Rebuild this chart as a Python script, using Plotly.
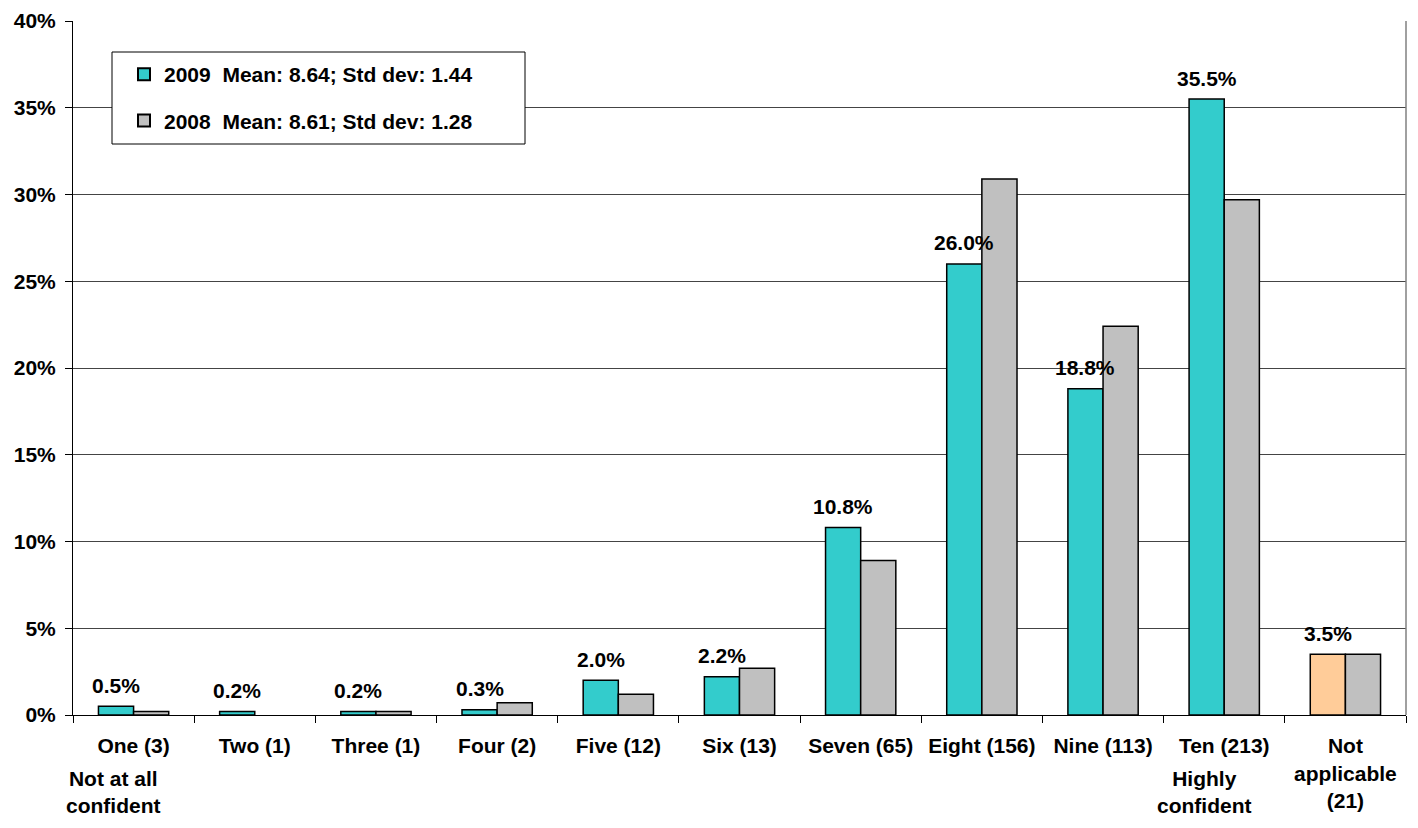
import plotly.graph_objects as go

categories = ["One (3)", "Two (1)", "Three (1)", "Four (2)", "Five (12)", "Six (13)",
              "Seven (65)", "Eight (156)", "Nine (113)", "Ten (213)", "Not<br>applicable<br>(21)"]
values_2009 = [0.5, 0.2, 0.2, 0.3, 2.0, 2.2, 10.8, 26.0, 18.8, 35.5, 3.5]
values_2008 = [0.2, None, 0.2, 0.7, 1.2, 2.7, 8.9, 30.9, 22.4, 29.7, 3.5]
labels_2009 = ["0.5%", "0.2%", "0.2%", "0.3%", "2.0%", "2.2%", "10.8%", "26.0%", "18.8%", "35.5%", "3.5%"]
colors_2009 = ["#33CCCC"] * 10 + ["#FFCC99"]
name_2009 = "2009\u00a0\u00a0Mean: 8.64; Std dev: 1.44"
name_2008 = "2008\u00a0\u00a0Mean: 8.61; Std dev: 1.28"
y_tickvals = [0, 5, 10, 15, 20, 25, 30, 35, 40]
y_ticktext = ["0%", "5%", "10%", "15%", "20%", "25%", "30%", "35%", "40%"]

FONT = "Liberation Sans, Arial, sans-serif"
FS = 21
BARGAP = 0.42

# page body has an 8px margin: figure spans x 8..1418, y 8..828
W, H = 1410, 820
ML, MR, MT, MB = 65, 12, 13, 113
plot_w = W - ML - MR
plot_h = H - MT - MB
cat_px = plot_w / len(categories)
bar_px = cat_px * (1 - BARGAP) / 2


def px_x(p):  # absolute page pixel -> paper x
    return (p - 8 - ML) / plot_w


def px_y(p):  # absolute page pixel -> paper y
    return (H - MB - (p - 8)) / plot_h


fig = go.Figure()
fig.add_trace(go.Bar(
    x=categories, y=values_2009, name=name_2009, legendgroup="a",
    marker=dict(color=colors_2009, line=dict(color="black", width=1.5)),
))
fig.add_trace(go.Bar(
    x=categories, y=values_2008, name=name_2008, legendgroup="b",
    marker=dict(color="#C0C0C0", line=dict(color="black", width=1.5)),
))

# value labels centred over the 2009 bars
for cat, val, lab in zip(categories, values_2009, labels_2009):
    fig.add_annotation(x=cat, y=val, xref="x", yref="y", text=f"<b>{lab}</b>",
                       showarrow=False, xshift=-bar_px / 2, yshift=21, yanchor="middle",
                       font=dict(family=FONT, size=FS, color="black"))

fig.add_annotation(x=categories[0], y=0, xref="x", yref="paper", xshift=-20, yshift=-77,
                   text="<b>Not at all<br>confident</b>", showarrow=False,
                   yanchor="middle", font=dict(family=FONT, size=FS, color="black"))
fig.add_annotation(x=categories[9], y=0, xref="x", yref="paper", xshift=-20, yshift=-77,
                   text="<b>Highly<br>confident</b>", showarrow=False,
                   yanchor="middle", font=dict(family=FONT, size=FS, color="black"))

# legend box and right plot border
fig.add_shape(type="rect", xref="paper", yref="paper",
              x0=px_x(112), x1=px_x(525), y0=px_y(144), y1=px_y(52),
              fillcolor="white", line=dict(color="black", width=1), layer="above")
fig.add_shape(type="line", xref="paper", yref="paper", x0=1, x1=1, y0=0, y1=1,
              line=dict(color="#808080", width=1.5), layer="above")

fig.update_layout(
    width=W, height=H,
    margin=dict(l=ML, r=MR, t=MT, b=MB, autoexpand=False),
    paper_bgcolor="white", plot_bgcolor="white",
    barmode="group", bargap=BARGAP, bargroupgap=0,
    font=dict(family=FONT, size=FS, color="black"),
    showlegend=True,
    legend=dict(x=px_x(124), y=px_y(54), xanchor="left", yanchor="top",
                bgcolor="rgba(0,0,0,0)", borderwidth=0,
                font=dict(family=FONT, size=FS, color="black", weight="bold"),
                tracegroupgap=16, itemsizing="constant"),
    xaxis=dict(type="category", showgrid=False, showline=True, linecolor="black",
               linewidth=1, ticks="outside", tickson="boundaries", ticklen=7,
               tickcolor="black", tickfont=dict(family=FONT, size=FS, weight="bold"),
               ticklabelstandoff=12, range=[-0.5, 10.5], automargin=False),
    yaxis=dict(range=[0, 40], tickmode="array", tickvals=y_tickvals, ticktext=y_ticktext,
               showgrid=True, gridcolor="#444444", gridwidth=1, showline=True,
               linecolor="black", linewidth=1, mirror=False, ticks="outside", ticklen=7,
               tickcolor="black", tickfont=dict(family=FONT, size=FS, weight="bold"),
               ticklabelstandoff=5, zeroline=False, automargin=False),
)

fig.write_html("out.html")
